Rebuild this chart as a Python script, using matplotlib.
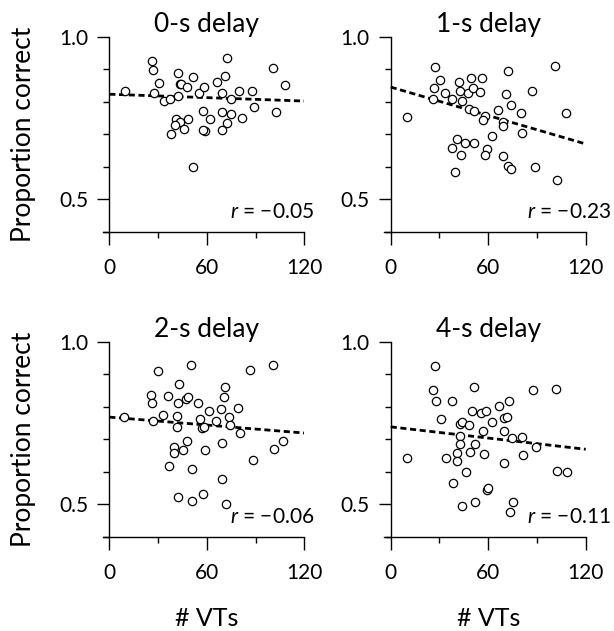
import matplotlib
matplotlib.use("Agg")
import matplotlib.pyplot as plt
from matplotlib.ticker import FixedLocator, NullFormatter, FixedFormatter

plt.rcParams['font.family'] = ['Lato', 'DejaVu Sans']
plt.rcParams['mathtext.fontset'] = 'custom'
plt.rcParams['mathtext.it'] = 'Lato:italic'
plt.rcParams['mathtext.rm'] = 'Lato'

# ---------------- data ----------------
titles = ["0-s delay", "1-s delay", "2-s delay", "4-s delay"]
r_texts = ["\u22120.05", "\u22120.23", "\u22120.06", "\u22120.11"]

vts_0s = [9.6, 26.1, 27.1, 30.6, 27.7, 33.8, 37.3, 42.1, 43.5, 44.3, 48.0, 51.3,
          42.5, 55.0, 58.5, 66.0, 71.4, 72.2, 69.1, 74.7, 80.0, 87.6, 89.0, 81.4,
          100.9, 108.1, 102.4, 57.4, 61.9, 69.5, 74.7, 72.6, 69.5, 58.9, 57.8,
          40.8, 43.5, 48.2, 40.4, 46.1, 37.7, 51.7]
pc_0s = [0.833, 0.925, 0.899, 0.859, 0.828, 0.803, 0.808, 0.887, 0.856, 0.853, 0.846, 0.877,
         0.819, 0.826, 0.846, 0.862, 0.879, 0.935, 0.828, 0.808, 0.833, 0.833, 0.783, 0.751,
         0.903, 0.851, 0.767, 0.771, 0.746, 0.768, 0.761, 0.733, 0.713, 0.711, 0.713,
         0.747, 0.738, 0.746, 0.728, 0.716, 0.700, 0.600]

vts_1s = [9.8, 27.3, 30.4, 26.9, 25.8, 33.4, 37.5, 42.1, 42.7, 43.7, 47.8, 49.2, 50.8,
          54.9, 56.4, 48.4, 51.5, 58.1, 57.0, 65.8, 72.0, 71.0, 74.0, 80.0, 69.3, 68.9,
          87.2, 101.1, 107.7, 81.0, 62.2, 40.6, 37.9, 45.8, 51.5, 43.3, 59.5, 58.0,
          69.3, 72.4, 74.0, 88.8, 39.6, 102.2]
pc_1s = [0.752, 0.908, 0.867, 0.841, 0.807, 0.826, 0.808, 0.861, 0.833, 0.802, 0.826, 0.874, 0.843,
         0.831, 0.874, 0.776, 0.772, 0.756, 0.744, 0.774, 0.894, 0.824, 0.790, 0.764, 0.736, 0.725,
         0.833, 0.910, 0.766, 0.703, 0.694, 0.684, 0.658, 0.674, 0.674, 0.636, 0.653, 0.636,
         0.633, 0.602, 0.593, 0.600, 0.585, 0.559]

vts_2s = [9.2, 29.8, 25.5, 26.0, 26.7, 33.2, 36.3, 42.9, 42.0, 41.8, 41.4, 47.2, 48.6,
          50.3, 54.4, 55.8, 56.8, 58.3, 61.6, 65.7, 68.5, 71.2, 70.6, 73.9, 74.3, 79.4,
          80.5, 86.8, 100.5, 107.1, 101.4, 88.2, 69.6, 58.9, 47.6, 45.6, 39.8, 39.8,
          36.9, 51.1, 69.1, 42.5, 50.7, 57.9, 71.8]
pc_2s = [0.769, 0.909, 0.837, 0.812, 0.755, 0.776, 0.834, 0.870, 0.812, 0.771, 0.737, 0.825, 0.829,
         0.927, 0.812, 0.763, 0.735, 0.737, 0.787, 0.756, 0.792, 0.860, 0.829, 0.767, 0.745, 0.797,
         0.719, 0.912, 0.927, 0.695, 0.670, 0.635, 0.688, 0.668, 0.693, 0.668, 0.676, 0.659,
         0.618, 0.609, 0.578, 0.521, 0.510, 0.532, 0.500]

vts_4s = [9.8, 27.3, 26.2, 27.8, 30.9, 37.5, 33.8, 40.6, 40.6, 38.2, 43.7, 42.7, 44.1,
          42.7, 42.7, 48.2, 48.8, 46.4, 51.3, 49.8, 51.9, 51.9, 55.6, 58.7, 57.0, 57.6,
          62.6, 59.1, 60.1, 66.7, 70.0, 71.4, 72.8, 70.0, 70.0, 74.5, 80.6, 81.6, 75.1,
          73.4, 87.8, 89.4, 101.5, 102.6, 108.3]
pc_4s = [0.641, 0.925, 0.850, 0.817, 0.761, 0.819, 0.643, 0.658, 0.633, 0.566, 0.494, 0.748, 0.754,
         0.710, 0.686, 0.744, 0.661, 0.600, 0.862, 0.787, 0.684, 0.508, 0.781, 0.787, 0.725, 0.653,
         0.753, 0.544, 0.549, 0.802, 0.766, 0.768, 0.819, 0.725, 0.628, 0.703, 0.708, 0.650, 0.508,
         0.476, 0.851, 0.676, 0.853, 0.602, 0.600]

fit_x = [0, 120]
fit_0s = [0.823, 0.802]
fit_1s = [0.845, 0.670]
fit_2s = [0.768, 0.719]
fit_4s = [0.738, 0.669]

x_ticks = [0, 60, 120]
x_minor = [30, 90]
y_ticks = [0.5, 1.0]
y_minor = [0.4, 0.6, 0.7, 0.8, 0.9]

panels = [(vts_0s, pc_0s, fit_0s), (vts_1s, pc_1s, fit_1s),
          (vts_2s, pc_2s, fit_2s), (vts_4s, pc_4s, fit_4s)]

# ---------------- layout ----------------
fig = plt.figure(figsize=(6.14, 6.31), dpi=100)
W, H = 614.0, 631.0
lefts = [102.8 / W, 384.2 / W]
bottoms = [(H - 231.7) / H, (H - 536.7) / H]
width = 201.5 / W
height = 195.0 / H

for i, (xs, ys, fit) in enumerate(panels):
    row, col = divmod(i, 2)
    ax = fig.add_axes([lefts[col], bottoms[row], width, height])
    ax.set_xlim(-4, 120)
    ax.set_ylim(0.4, 1.0)
    ax.spines['top'].set_visible(False)
    ax.spines['right'].set_visible(False)
    ax.spines['left'].set_position(('data', 0))
    for s in ('left', 'bottom'):
        ax.spines[s].set_linewidth(1.0)
        ax.spines[s].set_clip_on(False)

    ax.plot(fit_x, fit, color='black', lw=2.0, dashes=(2.2, 1.3), zorder=2,
            solid_capstyle='butt', dash_capstyle='butt')
    ax.plot(xs, ys, linestyle='none', marker='o', ms=6.0, mfc='white',
            mec='black', mew=0.9, zorder=3, clip_on=False)

    ax.xaxis.set_major_locator(FixedLocator(x_ticks))
    ax.xaxis.set_minor_locator(FixedLocator(x_minor))
    ax.yaxis.set_major_locator(FixedLocator(y_ticks))
    ax.yaxis.set_minor_locator(FixedLocator(y_minor))
    ax.xaxis.set_major_formatter(FixedFormatter([str(v) for v in x_ticks]))
    ax.yaxis.set_major_formatter(FixedFormatter(["%.1f" % v for v in y_ticks]))
    ax.xaxis.set_minor_formatter(NullFormatter())
    ax.yaxis.set_minor_formatter(NullFormatter())
    ax.tick_params(which='major', direction='out', length=9, width=1.0,
                   labelsize=15, colors='black')
    ax.tick_params(which='minor', direction='out', length=4.5, width=1.0)
    ax.tick_params(axis='x', which='major', pad=10)
    ax.tick_params(axis='y', which='major', pad=6)

    ax.text(60, 1.0, titles[i], ha='center', va='bottom', fontsize=19,
            transform=ax.transData)
    ax.text(74 if col == 0 else 84, 0.462, r"$r$ = " + r_texts[i], ha='left',
            va='center', fontsize=15)

    if col == 0:
        yc = bottoms[row] + height / 2
        fig.text(24 / W, yc, "Proportion correct", rotation=90, ha='center',
                 va='center', fontsize=19)
    if row == 1:
        xc = (lefts[col] * W + 6.5 + 97.5) / W
        fig.text(xc, 1 - 618 / H, "# VTs", ha='center', va='center', fontsize=18)

fig.savefig("out.png", dpi=100)
